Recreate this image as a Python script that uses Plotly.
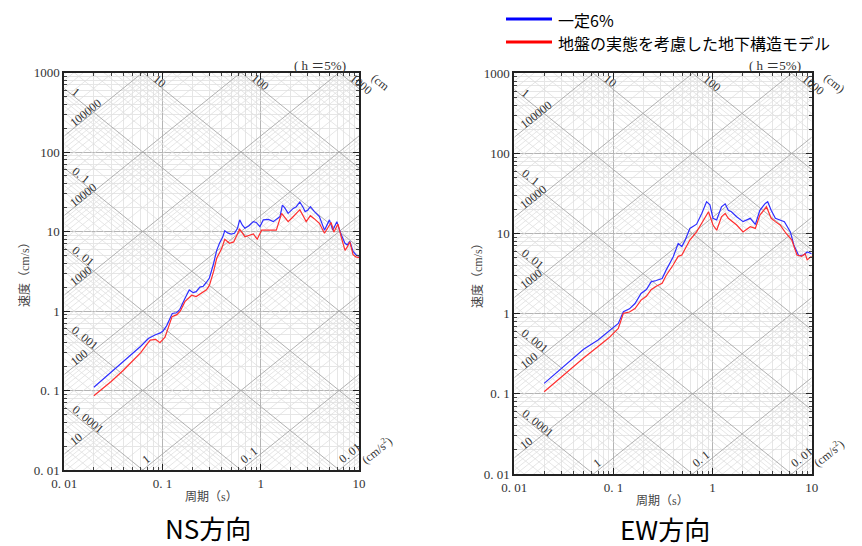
import math
import plotly.graph_objects as go

W, H = 862, 546
OFF = 8  # page body margin offset (browser default)

# ---------------- data (period s, pseudo velocity cm/s) ----------------
ns_blue_T = [0.02, 0.03, 0.04, 0.05, 0.06, 0.0717, 0.0837, 0.095, 0.1017, 0.11, 0.1256, 0.139, 0.150,
             0.169, 0.187, 0.205, 0.22, 0.24, 0.26, 0.28, 0.30, 0.33, 0.356, 0.38, 0.41, 0.43, 0.46,
             0.50, 0.54, 0.58, 0.61, 0.65, 0.69, 0.76, 0.84, 0.90, 0.98, 1.06, 1.2, 1.34, 1.47, 1.57,
             1.66, 1.75, 1.9, 2.14, 2.3, 2.5, 2.7, 2.83, 3.0, 3.2, 3.52, 3.95, 4.45, 5.0, 5.4, 5.95,
             6.5, 7.2, 7.6, 8.07, 8.7, 9.3, 10.0]
ns_blue_V = [0.11, 0.17, 0.23, 0.29, 0.36, 0.45, 0.50, 0.53, 0.565, 0.65, 0.93, 0.95, 1.05,
             1.44, 1.84, 1.70, 1.75, 2.0, 2.05, 2.3, 2.6, 3.9, 5.8, 7.1, 8.5, 10.2, 9.6,
             9.3, 9.5, 11.0, 14.0, 12.0, 11.0, 11.8, 13.3, 13.0, 11.5, 14.0, 14.2, 13.3, 14.5, 15.4,
             21.5, 20.0, 16.9, 19.5, 20.5, 23.5, 20.0, 17.8, 18.5, 20.5, 17.8, 15.4, 10.4, 14.0, 10.4, 13.3,
             9.5, 7.1, 6.8, 7.5, 5.6, 5.1, 4.9]

ns_red_T = [0.02, 0.03, 0.04, 0.05, 0.06, 0.068, 0.075, 0.085, 0.094, 0.106, 0.115, 0.125, 0.14, 0.152,
            0.169, 0.198, 0.22, 0.26, 0.28, 0.30, 0.33, 0.356, 0.40, 0.43, 0.48, 0.53, 0.61, 0.69,
            0.76, 0.84, 0.92, 1.02, 1.2, 1.44, 1.63, 1.9, 2.1, 2.5, 2.9, 3.2, 3.5, 3.95, 4.45, 5.2,
            5.55, 6.1, 6.6, 7.2, 7.6, 8.07, 8.7, 9.3, 10.0]
ns_red_V = [0.086, 0.13, 0.18, 0.235, 0.30, 0.37, 0.43, 0.44, 0.40, 0.47, 0.65, 0.85, 0.90, 1.0,
            1.31, 1.58, 1.52, 1.73, 1.85, 2.1, 3.1, 4.6, 6.1, 8.0, 7.1, 7.4, 10.7, 8.6,
            9.0, 9.3, 8.0, 10.4, 10.4, 10.4, 16.9, 13.3, 15.0, 18.8, 13.3, 15.8, 14.5, 12.7, 9.5, 13.0,
            9.8, 12.4, 8.5, 5.8, 6.4, 7.4, 5.1, 4.8, 4.7]

ew_blue_T = [0.02, 0.03, 0.05, 0.07, 0.09, 0.112, 0.126, 0.145, 0.165, 0.19, 0.215, 0.24, 0.27, 0.31,
             0.34, 0.37, 0.40, 0.45, 0.49, 0.53, 0.59, 0.69, 0.78, 0.87, 0.94, 1.01, 1.10, 1.23, 1.34,
             1.44, 1.55, 1.75, 2.03, 2.4, 2.7, 3.0, 3.4, 3.6, 3.9, 4.3, 4.8, 5.3, 6.1, 6.6, 7.4, 8.3,
             9.0, 10.0]
ew_blue_V = [0.135, 0.21, 0.36, 0.47, 0.61, 0.757, 1.06, 1.15, 1.34, 1.79, 2.0, 2.5, 2.6, 2.75,
             3.5, 4.3, 5.1, 7.5, 6.9, 8.3, 11.6, 13.1, 17.9, 25.0, 22.8, 15.5, 14.8, 21.6, 23.5,
             19.5, 18.7, 16.2, 14.1, 15.5, 13.0, 19.5, 23.8, 25.0, 19.5, 15.5, 14.8, 14.1, 10.5, 7.2, 5.3, 5.4,
             5.9, 5.6]

ew_red_T = [0.02, 0.03, 0.05, 0.07, 0.09, 0.112, 0.126, 0.145, 0.165, 0.19, 0.215, 0.24, 0.27, 0.31,
            0.34, 0.40, 0.45, 0.49, 0.53, 0.59, 0.69, 0.78, 0.91, 1.01, 1.10, 1.23, 1.34, 1.44, 1.75,
            2.03, 2.4, 2.7, 3.0, 3.5, 3.9, 4.3, 4.8, 5.5, 6.3, 7.1, 7.9, 8.6, 9.0, 10.0]
ew_red_V = [0.106, 0.165, 0.28, 0.39, 0.50, 0.655, 1.01, 1.05, 1.16, 1.48, 1.65, 1.99, 2.2, 2.4,
            3.0, 4.05, 5.2, 5.4, 6.5, 8.3, 10.5, 13.4, 18.7, 12.8, 11.0, 16.2, 17.9, 15.5, 12.8,
            10.5, 12.2, 11.6, 17.0, 21.6, 15.5, 14.1, 12.8, 10.1, 8.3, 5.4, 5.2, 5.6, 4.7, 5.2]

series_names = ["一定6%", "地盤の実態を考慮した地下構造モデル"]
panel_titles = ["NS方向", "EW方向"]

x_tick_vals = [0.01, 0.1, 1, 10]
x_tick_text = ["0. 01", "0. 1", "1", "10"]
y_tick_vals = [0.01, 0.1, 1, 10, 100, 1000]
y_tick_text = ["0. 01", "0. 1", "1", "10", "100", "1000"]
disp_label_vals = [0.0001, 0.001, 0.01, 0.1, 1, 10, 100, 1000]
disp_label_text = ["0. 0001", "0. 001", "0. 01", "0. 1", "1", "10", "100", "1000"]
acc_label_vals = [0.01, 0.1, 1, 10, 100, 1000, 10000, 100000]
acc_label_text = ["0. 01", "0. 1", "1", "10", "100", "1000", "10000", "100000"]

T_MIN, T_MAX = 0.01, 10.0
V_MIN, V_MAX = 0.01, 1000.0
TWO_PI = 2 * math.pi

BLUE = "#2f2fff"
RED = "#ff2f2f"
SERIF = "Liberation Serif, Noto Sans CJK JP, serif"
SANS = "Noto Sans CJK JP, sans-serif"

# panel pixel boxes in screen pixels (left, top, right, bottom)
panels = [
    dict(box=(64.3, 72.5, 359.0, 470.0), blue=(ns_blue_T, ns_blue_V), red=(ns_red_T, ns_red_V),
         title=panel_titles[0], title_xy=(208, 527), cm_text="(cm", cm_xy=(380, 82),
         acc_xy=(376, 450), h_xy=(320, 66), ytitle_xy=(25, 272), xtitle_xy=(211, 497)),
    dict(box=(514.3, 73.3, 811.7, 474.0), blue=(ew_blue_T, ew_blue_V), red=(ew_red_T, ew_red_V),
         title=panel_titles[1], title_xy=(665, 528), cm_text="(cm)", cm_xy=(834, 83),
         acc_xy=(828, 453), h_xy=(775, 66), ytitle_xy=(478, 272), xtitle_xy=(662, 501)),
]

fig = go.Figure()
annotations = []
shapes = []
layout_axes = {}

minor_vals = [k * 10 ** n for n in range(-2, 3) for k in range(2, 10)]


def px(x):
    return (x - OFF) / W


def py(y):
    return 1 - (y - OFF) / H


for i, p in enumerate(panels):
    sfx = "" if i == 0 else str(i + 1)
    xref, yref = "x" + sfx, "y" + sfx
    l, t, r, b = p["box"]
    dec_x = (r - l) / 3.0
    dec_y = (b - t) / 5.0
    ang = math.degrees(math.atan(dec_y / dec_x))

    # tripartite diagonal grid lines
    minor_x, minor_y, major_x, major_y = [], [], [], []
    for n in range(-6, 5):
        for k in range(1, 10):
            d = k * 10 ** n
            xs = [T_MIN, T_MAX]
            ys = [TWO_PI * d / T_MIN, TWO_PI * d / T_MAX]
            if k == 1:
                major_x += xs + [None]; major_y += ys + [None]
            else:
                minor_x += xs + [None]; minor_y += ys + [None]
    for n in range(-4, 7):
        for k in range(1, 10):
            a = k * 10 ** n
            xs = [T_MIN, T_MAX]
            ys = [a * T_MIN / TWO_PI, a * T_MAX / TWO_PI]
            if k == 1:
                major_x += xs + [None]; major_y += ys + [None]
            else:
                minor_x += xs + [None]; minor_y += ys + [None]
    fig.add_trace(go.Scatter(x=minor_x, y=minor_y, mode="lines", xaxis=xref, yaxis=yref,
                             line=dict(color="#e0e0e0", width=0.8), hoverinfo="skip", showlegend=False))
    fig.add_trace(go.Scatter(x=major_x, y=major_y, mode="lines", xaxis=xref, yaxis=yref,
                             line=dict(color="#a8a8a8", width=0.9), hoverinfo="skip", showlegend=False))

    # response spectra
    fig.add_trace(go.Scatter(x=p["blue"][0], y=p["blue"][1], mode="lines", xaxis=xref, yaxis=yref,
                             line=dict(color=BLUE, width=1.2), name=series_names[0], showlegend=False))
    fig.add_trace(go.Scatter(x=p["red"][0], y=p["red"][1], mode="lines", xaxis=xref, yaxis=yref,
                             line=dict(color=RED, width=1.2), name=series_names[1], showlegend=False))

    common = dict(type="log", showline=True, linecolor="#222", linewidth=2, mirror="allticks",
                  ticks="inside", ticklen=6, tickcolor="#222", tickwidth=1, automargin=False,
                  showgrid=True, gridcolor="#b4b4b4", gridwidth=1, zeroline=False,
                  tickfont=dict(family=SERIF, size=13, color="#333"), tickmode="array",
                  minor=dict(tickmode="array", tickvals=minor_vals, ticks="inside", ticklen=3,
                             tickcolor="#444", showgrid=True, gridcolor="#e6e6e6", gridwidth=1),
                  fixedrange=True)
    layout_axes["xaxis" + sfx] = dict(common, range=[math.log10(T_MIN), math.log10(T_MAX)],
                                      domain=[px(l), px(r)], anchor=yref,
                                      tickvals=x_tick_vals, ticktext=x_tick_text)
    layout_axes["yaxis" + sfx] = dict(common, range=[math.log10(V_MIN), math.log10(V_MAX)],
                                      domain=[py(b), py(t)], anchor=xref,
                                      tickvals=y_tick_vals, ticktext=y_tick_text)

    lab_font = dict(family=SERIF, size=12, color="#333")
    # displacement labels (cm)
    for d, txt in zip(disp_label_vals, disp_label_text):
        sv_left = TWO_PI * d / T_MIN
        if sv_left <= V_MAX:
            ex, ey, xs_, ys_ = T_MIN, sv_left, 2, 7
        else:
            ex, ey, xs_, ys_ = TWO_PI * d / V_MAX, V_MAX, 5, 4
        annotations.append(dict(x=math.log10(ex), y=math.log10(ey), xref=xref, yref=yref, text=txt,
                                showarrow=False, textangle=ang, xanchor="left", yanchor="top",
                                xshift=xs_, yshift=ys_, font=lab_font))
    # acceleration labels (cm/s2)
    for a, txt in zip(acc_label_vals, acc_label_text):
        sv_left = a * T_MIN / TWO_PI
        if sv_left >= V_MIN:
            ex, ey, xs_, ys_ = T_MIN, sv_left, 0, 3
        else:
            ex, ey, xs_, ys_ = TWO_PI * V_MIN / a, V_MIN, -6, 1
        annotations.append(dict(x=math.log10(ex), y=math.log10(ey), xref=xref, yref=yref, text=txt,
                                showarrow=False, textangle=-ang, xanchor="left", yanchor="bottom",
                                xshift=xs_, yshift=ys_, font=lab_font))

    def centered(xy, text, font, angle=0):
        return dict(x=px(xy[0]), y=py(xy[1]), xref="paper", yref="paper", text=text,
                    showarrow=False, textangle=angle, xanchor="center", yanchor="middle",
                    borderpad=0, font=font)

    # unit / damping labels
    annotations.append(centered(p["cm_xy"], p["cm_text"], lab_font, ang))
    annotations.append(centered(p["acc_xy"], "(cm/s<sup>2</sup>)", lab_font, -ang))
    annotations.append(centered(p["h_xy"], "( h ＝5%)", dict(family=SERIF, size=13, color="#333")))
    # axis titles
    annotations.append(centered(p["ytitle_xy"], "速度（cm/s）", dict(family=SERIF, size=12, color="#444"), -90))
    annotations.append(centered(p["xtitle_xy"], "周期（s）", dict(family=SERIF, size=12, color="#444")))
    # panel title
    annotations.append(centered(p["title_xy"], p["title"], dict(family=SANS, size=26, color="#000")))

# legend (drawn manually at top right)
legend_items = [(series_names[0], "#0000ff", 20), (series_names[1], "#ff0000", 43)]
for name, col, yy in legend_items:
    shapes.append(dict(type="line", xref="paper", yref="paper", x0=px(506), x1=px(552),
                       y0=py(yy - 1), y1=py(yy - 1), line=dict(color=col, width=3)))
    annotations.append(dict(x=px(557), y=py(yy), xref="paper", yref="paper", text=name,
                            showarrow=False, xanchor="left", yanchor="middle", borderpad=0,
                            font=dict(family=SANS, size=16, color="#000")))

fig.update_layout(template="none", width=W, height=H, autosize=False,
                  margin=dict(l=0, r=0, t=0, b=0, pad=0),
                  paper_bgcolor="white", plot_bgcolor="white", showlegend=False,
                  annotations=annotations, shapes=shapes, **layout_axes)

fig.write_html("out.html")
